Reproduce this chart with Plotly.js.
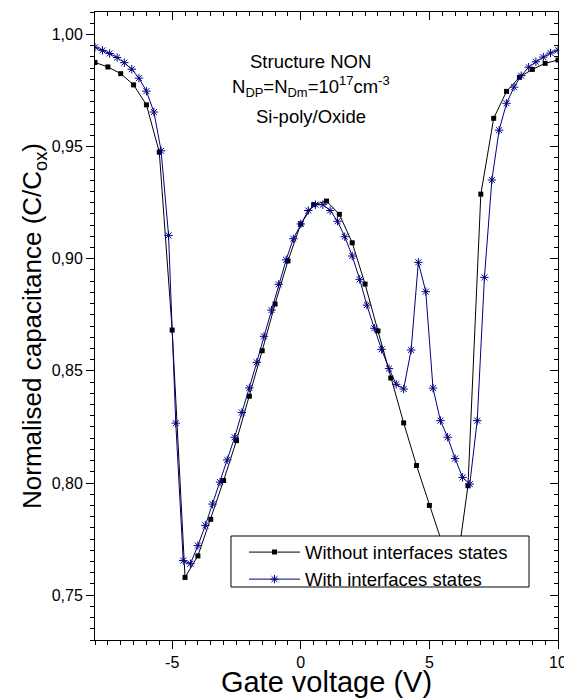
<!DOCTYPE html>
<html><head><meta charset="utf-8">
<script src="https://cdn.plot.ly/plotly-3.0.1.min.js"></script>
<style>html,body{margin:0;padding:0;background:#fff;}#chart{width:564px;height:698px;}</style>
</head><body><div id="chart"></div>
<script>
// Without interface states (black squares)
const voltWithout = [-8.0,-7.5,-7.0,-6.5,-6.0,-5.5,-5.0,-4.5,-4.0,-3.5,-3.0,-2.5,-2.0,-1.5,-1.0,-0.5,0.0,0.5,1.0,1.5,2.0,2.5,3.0,3.5,4.0,4.5,5.0,5.5,6.0,6.5,7.0,7.5,8.0,8.5,9.0,9.5,10.0];
const capWithout = [0.9875,0.9855,0.9825,0.9775,0.9686,0.9475,0.8682,0.7579,0.7675,0.7838,0.8011,0.8189,0.8387,0.8590,0.8798,0.8990,0.9155,0.9241,0.9257,0.9198,0.9071,0.8887,0.8678,0.8468,0.8268,0.8078,0.7900,0.7730,0.7570,0.7988,0.9288,0.9626,0.9746,0.9809,0.9844,0.9871,0.9886];
// With interface states (blue asterisks)
const voltWith = [-8.00,-7.71,-7.43,-7.14,-6.86,-6.57,-6.29,-6.00,-5.71,-5.43,-5.14,-4.86,-4.57,-4.29,-4.00,-3.71,-3.43,-3.14,-2.86,-2.57,-2.29,-2.00,-1.71,-1.43,-1.14,-0.86,-0.57,-0.29,0.00,0.29,0.57,0.86,1.14,1.43,1.71,2.00,2.29,2.57,2.86,3.14,3.43,3.71,4.00,4.29,4.57,4.86,5.14,5.43,5.71,6.00,6.29,6.57,6.86,7.14,7.43,7.71,8.00,8.29,8.57,8.86,9.14,9.43,9.71,10.00];
const capWith = [0.9943,0.9929,0.9915,0.9897,0.9874,0.9845,0.9805,0.9747,0.9654,0.9481,0.9104,0.8267,0.7654,0.7640,0.7721,0.7811,0.7906,0.8004,0.8103,0.8204,0.8314,0.8424,0.8538,0.8654,0.8771,0.8886,0.8995,0.9089,0.9155,0.9215,0.9241,0.9241,0.9215,0.9167,0.9098,0.9012,0.8908,0.8793,0.8690,0.8596,0.8510,0.8440,0.8419,0.8593,0.8984,0.8853,0.8423,0.8278,0.8204,0.8109,0.8025,0.7995,0.8278,0.8917,0.9351,0.9573,0.9693,0.9765,0.9816,0.9854,0.9878,0.9899,0.9917,0.9930];

const seriesNames = ['Without interfaces states', 'With interfaces states'];
const xTickVals = [-5, 0, 5, 10];
const xTickText = ['-5', '0', '5', '10'];
const yTickVals = [0.75, 0.80, 0.85, 0.90, 0.95, 1.00];
const yTickText = ['0,75', '0,80', '0,85', '0,90', '0,95', '1,00'];
const noteLines = ['Structure NON', 'N<sub>DP</sub>=N<sub>Dm</sub>=10<sup>17</sup>cm<sup>-3</sup>', 'Si-poly/Oxide'];
const xTitle = 'Gate voltage (V)';
const yTitle = 'Normalised capacitance (C/C<sub>ox</sub>)';

const FONT = 'Liberation Sans, Arial, sans-serif';
const navy = '#000080';

const traces = [
  {x: voltWithout, y: capWithout, name: seriesNames[0], mode: 'lines+markers',
   line: {color: '#000000', width: 1},
   marker: {symbol: 'square', size: 5, color: '#000000'}},
  {x: voltWith, y: capWith, name: seriesNames[1], mode: 'lines+markers',
   line: {color: navy, width: 1},
   marker: {symbol: 'asterisk-open', size: 7, color: navy, line: {color: navy, width: 1}}},
  {x: [], y: [], xaxis: 'x2', yaxis: 'y', showlegend: false, hoverinfo: 'skip'},
  {x: [], y: [], xaxis: 'x', yaxis: 'y2', showlegend: false, hoverinfo: 'skip'}
];

const xr = [-8, 10], yr = [0.73, 1.01];
const common = {showgrid: false, zeroline: false, showline: true, linecolor: '#000', linewidth: 1,
  tickcolor: '#000', tickwidth: 1};

const layout = {
  width: 564, height: 698,
  margin: {l: 95, r: 6, t: 12, b: 58, pad: 0},
  paper_bgcolor: '#fff', plot_bgcolor: '#fff',
  font: {family: FONT, color: '#000'},
  showlegend: true,
  legend: {x: 0.3218, y: 0.1695, xanchor: 'left', yanchor: 'top',
    bgcolor: 'rgba(0,0,0,0)', borderwidth: 0,
    font: {size: 18.5, family: FONT, color: '#000'}, itemwidth: 51, tracegroupgap: 0},
  shapes: [
    {type: 'rect', xref: 'paper', yref: 'paper', x0: 0.2937, x1: 0.9374, y0: 0.0844, y1: 0.1656,
     fillcolor: '#fff', line: {color: '#000', width: 1}, layer: 'above'}
  ],
  xaxis: Object.assign({}, common, {
    range: xr, tickmode: 'array', tickvals: xTickVals, ticktext: xTickText,
    ticks: 'outside', ticklen: 8, tickfont: {size: 16}, ticklabeloverflow: 'allow',
    minor: {tickmode: 'linear', tick0: 0, dtick: 0.5, ticks: 'outside', ticklen: 4, tickcolor: '#000', tickwidth: 1},
    title: {text: xTitle, font: {size: 29}, standoff: 4}
  }),
  xaxis2: Object.assign({}, common, {
    range: xr, overlaying: 'x', side: 'top', anchor: 'y',
    tickmode: 'array', tickvals: xTickVals, showticklabels: false,
    ticks: 'inside', ticklen: 8,
    minor: {tickmode: 'linear', tick0: 0, dtick: 0.5, ticks: 'inside', ticklen: 4, tickcolor: '#000', tickwidth: 1}
  }),
  yaxis: Object.assign({}, common, {
    range: yr, tickmode: 'array', tickvals: yTickVals, ticktext: yTickText,
    ticks: 'outside', ticklen: 8, tickfont: {size: 16},
    minor: {tickmode: 'linear', tick0: 0.75, dtick: 0.005, ticks: 'outside', ticklen: 4, tickcolor: '#000', tickwidth: 1},
    title: {text: yTitle, font: {size: 26}, standoff: 2}
  }),
  yaxis2: Object.assign({}, common, {
    range: yr, overlaying: 'y', side: 'right', anchor: 'x',
    tickmode: 'array', tickvals: yTickVals, showticklabels: false,
    ticks: 'inside', ticklen: 8,
    minor: {tickmode: 'linear', tick0: 0.75, dtick: 0.005, ticks: 'inside', ticklen: 4, tickcolor: '#000', tickwidth: 1}
  }),
  annotations: [
    {text: noteLines[0], x: 0.4665, y: 0.9205, xref: 'paper', yref: 'paper', xanchor: 'center', yanchor: 'middle', showarrow: false, font: {size: 18.5}},
    {text: noteLines[1], x: 0.4665, y: 0.8806, xref: 'paper', yref: 'paper', xanchor: 'center', yanchor: 'middle', showarrow: false, font: {size: 18.5}},
    {text: noteLines[2], x: 0.4665, y: 0.8330, xref: 'paper', yref: 'paper', xanchor: 'center', yanchor: 'middle', showarrow: false, font: {size: 18.5}}
  ]
};

Plotly.newPlot('chart', traces, layout, {displayModeBar: false, staticPlot: true});
</script>
</body></html>
